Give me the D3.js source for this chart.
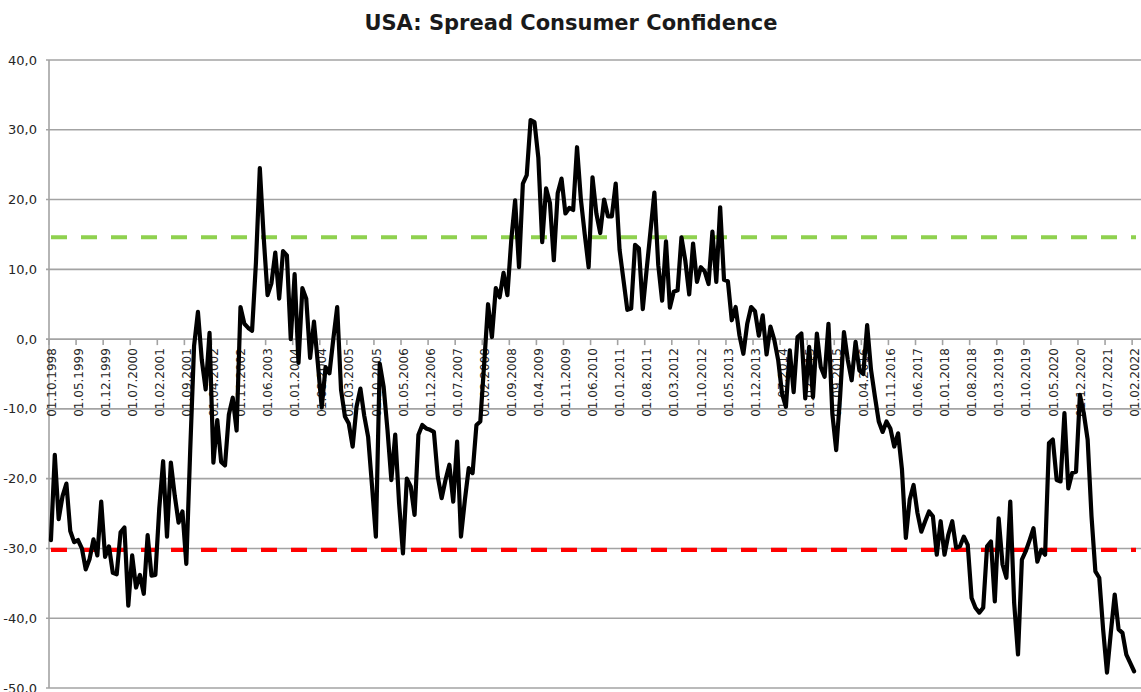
<!DOCTYPE html>
<html>
<head>
<meta charset="utf-8">
<script src="https://cdn.jsdelivr.net/npm/d3@7"></script>
<style>
  body { margin: 0; background: #ffffff; }
  svg { display: block; }
</style>
</head>
<body>
<svg id="chart" width="1141" height="692"></svg>
<script>
const title = "USA: Spread Consumer Confidence";
const startYear = 1998;
const startMonth = 10;

const values = [
  -28.8, -16.6, -25.8, -22.5, -20.7, -27.5, -29.1, -28.8, -30.0, -33.0,
  -31.5, -28.7, -31.0, -23.3, -31.2, -29.7, -33.5, -33.7, -27.7, -27.0,
  -38.2, -31.0, -35.6, -33.8, -36.5, -28.1, -33.9, -33.8, -24.3, -17.5,
  -28.3, -17.7, -22.4, -26.3, -24.7, -32.2, -16.0, -1.0, 3.9, -3.0,
  -7.2, 0.9, -17.7, -11.6, -17.6, -18.1, -10.8, -8.4, -13.1, 4.6,
  2.2, 1.6, 1.2, 11.0, 24.5, 14.6, 6.3, 8.0, 12.4, 5.8,
  12.6, 12.0, 0.0, 9.3, -3.4, 7.3, 5.8, -2.7, 2.5, -3.5,
  -9.8, -4.0, -4.9, 0.0, 4.6, -7.3, -11.1, -12.1, -15.4, -9.7,
  -7.1, -11.0, -14.0, -21.0, -28.3, -3.5, -6.8, -13.0, -20.2, -13.7,
  -23.5, -30.7, -20.0, -21.1, -25.2, -13.7, -12.3, -12.8, -13.0, -13.3,
  -19.7, -22.8, -20.2, -18.0, -23.3, -14.7, -28.3, -23.1, -18.5, -19.2,
  -12.3, -11.8, -3.5, 5.0, 0.3, 7.3, 6.0, 9.5, 6.3, 14.2,
  19.9, 10.3, 22.3, 23.5, 31.4, 31.1, 26.0, 13.9, 21.6, 19.5,
  11.3, 20.9, 23.0, 18.0, 18.8, 18.5, 27.5, 20.0, 15.0, 10.3,
  23.2, 18.0, 15.2, 20.0, 17.6, 17.6, 22.3, 12.8, 8.5, 4.2,
  4.4, 13.5, 13.0, 4.3, 10.0, 15.5, 21.0, 10.6, 5.5, 14.0,
  4.5, 6.8, 7.0, 14.6, 11.2, 6.4, 13.7, 8.2, 10.3, 9.7,
  7.9, 15.4, 8.2, 18.9, 8.5, 8.3, 2.7, 4.6, 0.5, -2.1,
  2.2, 4.6, 4.0, 0.5, 3.4, -2.2, 1.8, -0.1, -3.0, -7.8,
  -9.7, -1.6, -7.6, 0.3, 0.8, -8.5, -1.1, -8.3, 0.8, -4.0,
  -5.4, 2.2, -10.7, -15.9, -8.3, 1.0, -3.0, -5.9, -0.4, -4.5,
  -5.0, 2.0, -4.4, -8.2, -11.8, -13.3, -11.8, -12.8, -15.4, -13.5,
  -18.7, -28.5, -23.0, -20.9, -24.9, -27.6, -26.1, -24.7, -25.4, -30.9,
  -26.1, -30.9, -28.0, -26.1, -29.9, -29.7, -28.3, -29.5, -37.1, -38.5,
  -39.2, -38.5, -29.7, -29.0, -37.6, -25.7, -32.3, -34.2, -23.3, -37.8,
  -45.2, -31.6, -30.4, -28.8, -27.1, -31.9, -30.2, -30.9, -14.9, -14.4,
  -20.2, -20.4, -10.6, -21.4, -19.2, -19.0, -8.0, -10.6, -14.4, -25.4,
  -33.3, -34.2, -41.6, -47.8, -42.0, -36.6, -41.6, -42.1, -45.2, -46.4,
  -47.6
];

const tickLabels = [
  "01.10.1998", "01.05.1999", "01.12.1999", "01.07.2000", "01.02.2001",
  "01.09.2001", "01.04.2002", "01.11.2002", "01.06.2003", "01.01.2004",
  "01.08.2004", "01.03.2005", "01.10.2005", "01.05.2006", "01.12.2006",
  "01.07.2007", "01.02.2008", "01.09.2008", "01.04.2009", "01.11.2009",
  "01.06.2010", "01.01.2011", "01.08.2011", "01.03.2012", "01.10.2012",
  "01.05.2013", "01.12.2013", "01.07.2014", "01.02.2015", "01.09.2015",
  "01.04.2016", "01.11.2016", "01.06.2017", "01.01.2018", "01.08.2018",
  "01.03.2019", "01.10.2019", "01.05.2020", "01.12.2020", "01.07.2021",
  "01.02.2022"
];

const yTicks = [40, 30, 20, 10, 0, -10, -20, -30, -40, -50];
const upperLevel = 14.6;
const lowerLevel = -30.2;

const pad2 = n => String(n).padStart(2, "0");
const categories = values.map((v, i) => {
  const m = startMonth - 1 + i;
  return "01." + pad2((m % 12) + 1) + "." + (startYear + Math.floor(m / 12));
});

const svg = d3.select("#chart");
const plotLeft = 49, plotRight = 1136, plotTop = 60, plotBottom = 688;

const x = d3.scaleBand().domain(categories).range([plotLeft, plotRight]);
const bw = x.bandwidth();
const y = d3.scaleLinear().domain([-50, 40]).range([plotBottom, plotTop]);

const locale = d3.formatLocale({decimal: ",", thousands: ".", grouping: [3], currency: ["", ""], minus: "-"});
const fmt = locale.format(".1f");

// gridlines
svg.append("g").selectAll("line").data(yTicks).join("line")
  .attr("x1", plotLeft - 3).attr("x2", 1141)
  .attr("y1", d => y(d)).attr("y2", d => y(d))
  .attr("stroke", "#a3a3a3").attr("stroke-width", 1.6);

// y axis line
svg.append("line")
  .attr("x1", plotLeft).attr("x2", plotLeft)
  .attr("y1", y(40)).attr("y2", y(-50))
  .attr("stroke", "#a3a3a3").attr("stroke-width", 1.6);

// y labels
svg.append("g").selectAll("text").data(yTicks).join("text")
  .attr("x", 37).attr("y", d => y(d)).attr("dy", "0.35em")
  .attr("text-anchor", "end")
  .attr("font-family", "DejaVu Sans, Verdana, sans-serif")
  .attr("font-size", 13).attr("fill", "#262626")
  .text(d => fmt(d));

// x ticks at zero line
svg.append("g").selectAll("line").data(tickLabels).join("line")
  .attr("x1", d => x(d)).attr("x2", d => x(d))
  .attr("y1", y(0)).attr("y2", y(0) + 6)
  .attr("stroke", "#a3a3a3").attr("stroke-width", 1.6);

// x labels
svg.append("g").selectAll("text").data(tickLabels).join("text")
  .attr("transform", d => `translate(${x(d) + bw / 2 + 0.5},${y(0) + 9}) rotate(-90)`)
  .attr("dy", "0.35em")
  .attr("text-anchor", "end")
  .attr("font-family", "DejaVu Sans, Verdana, sans-serif")
  .attr("font-size", 12).attr("fill", "#262626")
  .text(d => d);

// dashed reference levels
const levels = [{v: upperLevel, c: "#8fd14f"}, {v: lowerLevel, c: "#ff0000"}];
svg.append("g").selectAll("line").data(levels).join("line")
  .attr("x1", x(categories[0]) + 2).attr("x2", x(categories[categories.length - 1]) + bw)
  .attr("y1", d => y(d.v)).attr("y2", d => y(d.v))
  .attr("stroke", d => d.c).attr("stroke-width", 4.2)
  .attr("stroke-dasharray", "16,14");

// main line
const line = d3.line()
  .x((d, i) => x(categories[i]) + bw / 2)
  .y(d => y(d));
svg.append("path").datum(values)
  .attr("d", line)
  .attr("fill", "none").attr("stroke", "#000000")
  .attr("stroke-width", 4.2).attr("stroke-linejoin", "round").attr("stroke-linecap", "round");

// title
svg.append("text")
  .attr("x", 571).attr("y", 30)
  .attr("text-anchor", "middle")
  .attr("font-family", "DejaVu Sans, Verdana, sans-serif")
  .attr("font-weight", "bold").attr("font-size", 21).attr("fill", "#1a1a1a")
  .text(title);
</script>
</body>
</html>
